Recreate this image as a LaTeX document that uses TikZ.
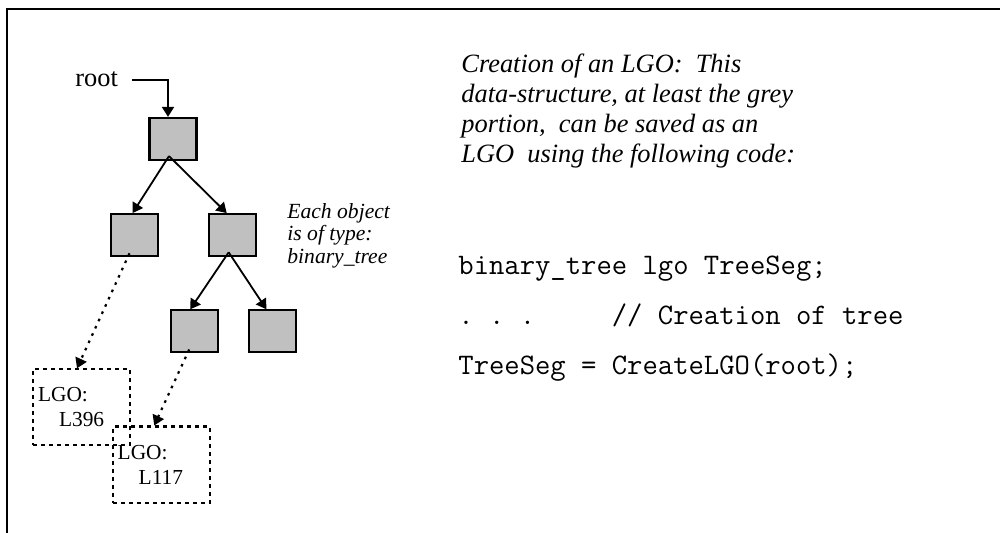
\documentclass[tikz,border=0pt]{standalone}
\usepackage{fontspec}
\setmainfont{Liberation Serif}
\usetikzlibrary{arrows.meta,
                positioning}
\definecolor{boxgrey}{RGB}{192,192,192}
\tikzset{
        obj/.style={draw, fill=boxgrey, line width=1.1pt, minimum width=23.5pt,
                    minimum height=21pt, inner sep=0pt},
        lgo/.style={draw, line width=1.1pt, dash pattern=on 2pt off 2pt,
                    text width=43.5pt, inner xsep=2.5pt, minimum height=38pt,
                    align=left, font=\fontsize{10.7}{12.5}\selectfont},
        ptr/.style={-{Triangle[length=5pt, width=6pt]}, line width=0.9pt},
        lgoptr/.style={ptr, line width=1.1pt, dash pattern=on 1.3pt off 2.7pt},
        txt/.style={inner sep=0pt, anchor=north west, align=left},
 }

\begin{document}
\begin{tikzpicture}[x=0.5pt, y=-0.5pt]
    \useasboundingbox (0,0) rectangle (1000,533);
    \draw[line width=1.2pt] (7,533) -- (7,9) -- (1000,9);

    \node[obj] (root) at (173,139) {};
    \node[obj, below=26pt of root, xshift=-19.25pt] (lchild) {};
    \node[obj, right=24.5pt of lchild] (rchild) {};
    \node[obj, below=26pt of rchild, xshift=-19.25pt] (rlchild) {};
    \node[obj, right=14.5pt of rlchild] (rrchild) {};

    \node[inner sep=0pt, anchor=base west, font=\fontsize{13.2}{15}\selectfont]
        (rootlbl) at (75,87) {root};
    \draw[ptr] ([xshift=7pt]rootlbl.east) -| ([xshift=-2.5pt]root.north);

    \draw[ptr] ([xshift=-2pt,yshift=2.5pt]root.south) -- ([xshift=-1pt]lchild.north);
    \draw[ptr] ([xshift=-2pt,yshift=2.5pt]root.south) -- ([xshift=-3pt]rchild.north);
    \draw[ptr] ([xshift=-2pt,yshift=2.5pt]rchild.south) -- ([xshift=-2pt]rlchild.north);
    \draw[ptr] ([xshift=-2pt,yshift=2.5pt]rchild.south) -- ([xshift=-3pt]rrchild.north);

    \node[lgo, below=55.5pt of lchild, xshift=-26.5pt] (lgo396) {LGO:\\\hspace*{10.5pt}L396};
    \node[lgo, below=36pt of rlchild, xshift=-16.5pt] (lgo117) {LGO:\\\hspace*{10.5pt}L117};

    \draw[lgoptr] ([xshift=-2.5pt,yshift=2pt]lchild.south) -- ([xshift=-2.25pt]lgo396.north);
    \draw[lgoptr] ([xshift=-2.5pt,yshift=2pt]rlchild.south) -- ([xshift=-3.5pt]lgo117.north);

    \node[txt, font=\itshape\fontsize{10.8}{11.2}\selectfont] (typenote) at (287,203)
        {Each object\\is of type:\\binary\_tree};

    \node[txt, font=\itshape\fontsize{13.2}{15}\selectfont] (caption) at (461,54)
        {Creation of an LGO:\ \ This\\data-structure, at least the grey\\portion,\ \ can be saved as an\\LGO\ \ using the following code:};

    \node[txt, font=\ttfamily\fontsize{14.9}{25}\selectfont] (code) at (458,256)
        {binary\_tree lgo TreeSeg;\\.\ .\ .\ \ \ \ \ //\ Creation of tree\\TreeSeg = CreateLGO(root);};
\end{tikzpicture}
\end{document}
